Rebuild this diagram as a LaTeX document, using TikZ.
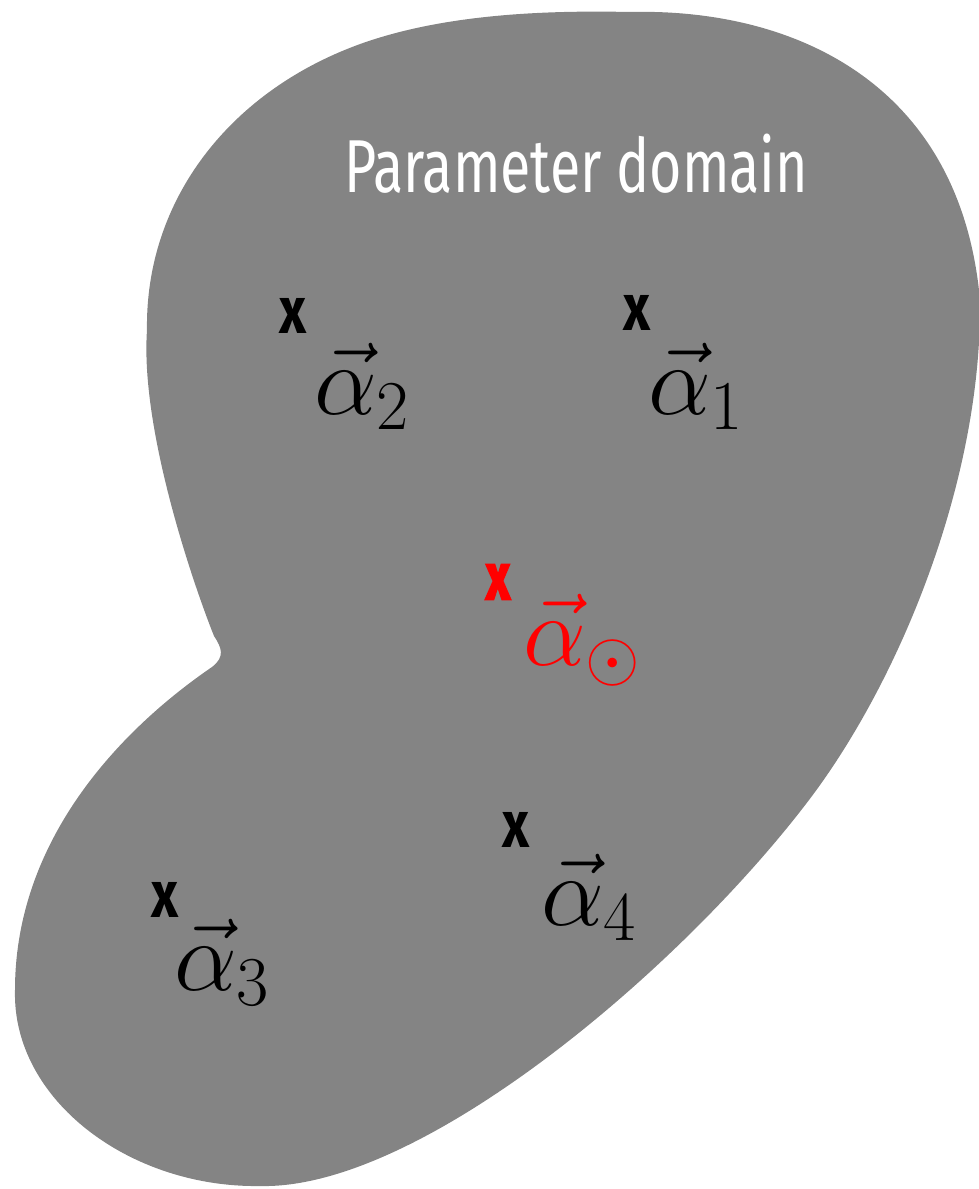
\RequirePackage{fix-cm}
\documentclass[tikz,border=0pt]{standalone}
\usepackage{amsmath}
\usepackage{fontspec}
\newfontfamily\condfont[FakeStretch=0.74]{Fira Sans}
\newfontfamily\crossfont[FakeStretch=0.8]{Fira Sans}
\newfontfamily\heavycross[FakeStretch=0.72, FakeBold=2.5]{Fira Sans}
\usepackage{tikz}
\usetikzlibrary{positioning, calc}

\definecolor{domgray}{RGB}{132,132,132}
\definecolor{ptred}{RGB}{255,0,0}

\begin{document}
\begin{tikzpicture}[
    x=1pt, y=-1pt,
    cross/.style={font=\crossfont\bfseries\fontsize{66}{70}\selectfont, inner sep=0pt, anchor=center},
    lbl/.style={font=\fontsize{100}{110}\selectfont, inner sep=0pt, anchor=base west},
    every node/.style={align=left}
]
\useasboundingbox (0,0) rectangle (979,1189);

% --- Domain (grey blob) ---
\fill[domgray] (630,12)
    .. controls (790,8) and (960,80) .. (980,300)
    .. controls (982,480) and (900,680) .. (809,800)
    .. controls (680,970) and (420,1190) .. (260,1186)
    .. controls (130,1188) and (12,1100) .. (15,990)
    .. controls (15,840) and (120,730) .. (212,667)
    .. controls (225,657) and (222,648) .. (214,636)
    .. controls (194,586) and (140,430) .. (147,330)
    .. controls (145,200) and (230,90) .. (363,43)
    .. controls (443,15) and (540,10) .. (630,12) -- cycle;

% --- Title ---
\node[font=\condfont\fontsize{75}{78}\selectfont, text=white, anchor=base] (T) at (576,192) {Parameter domain};

% --- Sample points ---
\node[cross] (X1) at (637,313) {x};
\node[lbl] (A1) at (648,414) {$\vec{\alpha}_1$};

\node[cross] (X2) at (293,316) {x};
\node[lbl] (A2) at (314,414) {$\vec{\alpha}_2$};

\node[cross] (X3) at (165,900) {x};
\node[lbl] (A3) at (174,990) {$\vec{\alpha}_3$};

\node[cross] (X4) at (516,830) {x};
\node[lbl] (A4) at (541,925) {$\vec{\alpha}_4$};

% --- Centre point (red) ---
\node[cross, text=ptred, font=\heavycross\bfseries\fontsize{66}{70}\selectfont] (X0) at (498,582) {x};
\node[lbl, text=ptred] (A0) at (523,665) {$\vec{\alpha}_{\odot}$};

\end{tikzpicture}
\end{document}
